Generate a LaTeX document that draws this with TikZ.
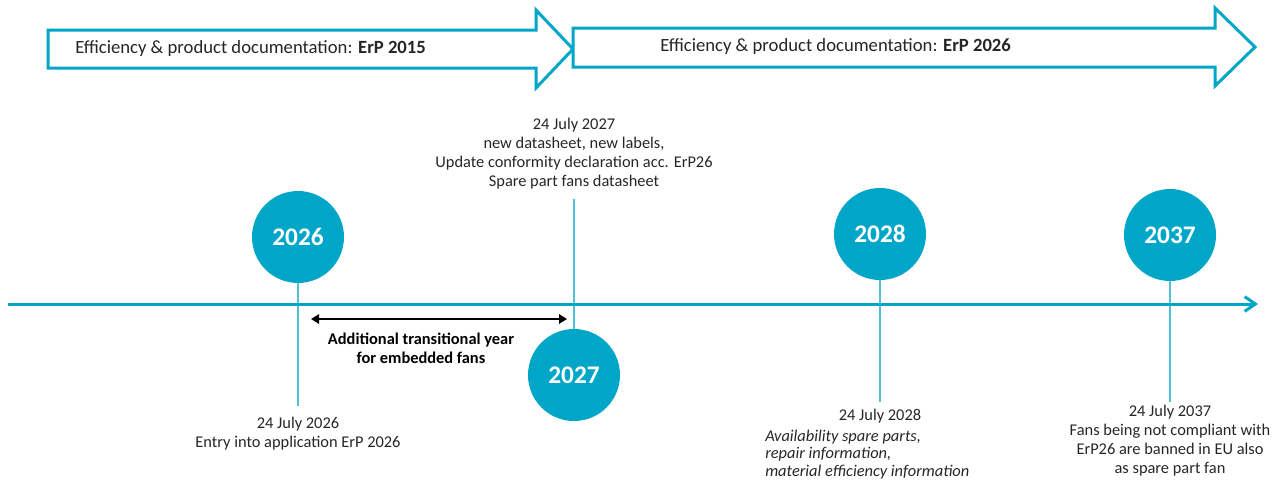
\documentclass[tikz,border=0pt]{standalone}
\usepackage{fontspec}
\setmainfont{Carlito}
\usetikzlibrary{arrows.meta,positioning}
\definecolor{erpblue}{HTML}{00A6C8}
\definecolor{erpline}{HTML}{4FBFDA}
\definecolor{erptext}{HTML}{262626}

\begin{document}
\begin{tikzpicture}[
        x=0.75pt, y=-0.75pt,
        every node/.style={text=erptext, font=\fontsize{12.3}{14.25}\selectfont, inner sep=0pt},
        year/.style={circle, fill=erpblue, minimum size=69pt, text=white, font=\fontsize{19}{21}\selectfont\bfseries},
        band/.style={draw=erpblue, line width=2.25pt, fill=white, line join=miter},
        axis/.style={draw=erpblue, line width=2.25pt, -{Straight Barb[length=8pt,width=11pt]}},
        tick/.style={draw=erpline, line width=1.3pt},
        note/.style={align=center},
        span/.style={draw=black, line width=1.8pt, {Triangle[length=6pt,width=7pt]}-{Triangle[length=6pt,width=7pt]}}
    ]

    \useasboundingbox (0,0) rectangle (1282,479);

    % Bands
    \draw[band] (48,30) -- (536,30) -- (536,10) -- (573,49) -- (536,88) -- (536,68) -- (48,68) -- cycle;
    \draw[band] (573,28) -- (1215,28) -- (1215,8) -- (1255,47) -- (1215,86) -- (1215,67) -- (573,67) -- cycle;
    \node[anchor=west, font=\fontsize{14}{16}\selectfont] (erp15) at (75,49) {Efficiency \& product documentation: \textbf{ErP 2015}};
    \node[anchor=west, font=\fontsize{14}{16}\selectfont] (erp26) at (660,47) {Efficiency \& product documentation: \textbf{ErP 2026}};

    % Nodes
    \node[year] (y2026) at (298,237) {2026};
    \node[year] (y2027) at (574,375) {2027};
    \node[year] (y2028) at (880,234) {2028};
    \node[year] (y2037) at (1170,235) {2037};

    \node[note, anchor=north] (t2026) at (298,417) {24 July 2026\\Entry into application ErP 2026};
    \node[note, anchor=north] (t2027) at (574,118) {24 July 2027\\new datasheet, new labels,\\Update conformity declaration acc. ErP26\\Spare part fans datasheet};
    \node[anchor=north] (t2028) at (880,409) {24 July 2028};
    \node[align=left, anchor=north west, font=\fontsize{12.3}{13}\selectfont\itshape] (i2028) at (765,430) {Availability spare parts,\\repair information,\\material efficiency information};
    \node[note, anchor=north] (t2037) at (1170,405) {24 July 2037\\Fans being not compliant with\\ErP26 are banned in EU also\\as spare part fan};
    \node[note, anchor=north, font=\fontsize{12.3}{14}\selectfont\bfseries, text=black] (gap) at (421,333) {Additional transitional year\\for embedded fans};

    \coordinate (axis start) at (8,304);
    \coordinate (axis end) at (1258,304);
    \coordinate (gap start) at (311,319);
    \coordinate (gap end) at (567,319);

    % Edges
    \draw[tick, shorten >=8.5pt] (y2026) -- (t2026);
    \draw[tick, shorten <=7pt] (t2027) -- (y2027);
    \draw[tick, shorten >=5.5pt] (y2028) -- (t2028);
    \draw[tick, shorten >=2pt] (y2037) -- (t2037);
    \draw[axis] (axis start) -- (axis end);
    \draw[span] (gap start) -- (gap end);

\end{tikzpicture}
\end{document}
